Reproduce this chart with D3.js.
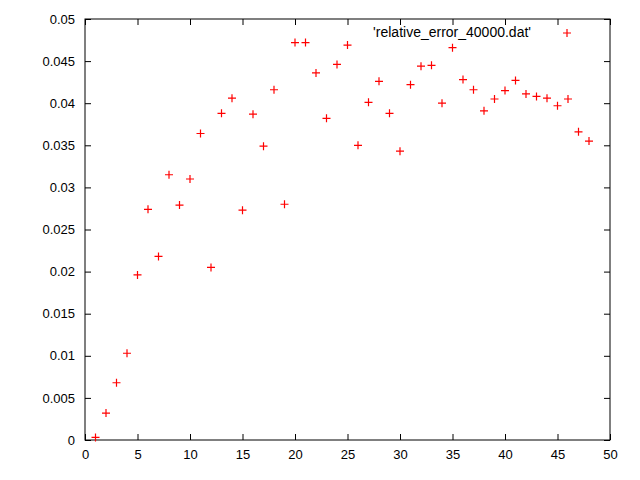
<!DOCTYPE html>
<html><head><meta charset="utf-8">
<script src="https://cdn.jsdelivr.net/npm/d3@7"></script>
<style>body{margin:0;background:#fff}text{font-family:"Liberation Sans",Arial,sans-serif;font-size:13px}</style>
</head><body><svg id="c" width="640" height="480"></svg>
<script>
const xs = d3.range(1, 49);
const ys = [0.0003,0.0032,0.0068,0.0103,0.0196,0.0274,0.0218,0.0315,0.0279,0.0310,
0.0364,0.0205,0.0388,0.0406,0.0273,0.0387,0.0349,0.0416,0.0280,0.0472,
0.0472,0.0436,0.0382,0.0446,0.0469,0.0350,0.0401,0.0426,0.0388,0.0343,
0.0422,0.0444,0.0445,0.0400,0.0466,0.0428,0.0416,0.0391,0.0405,0.0415,
0.0427,0.0411,0.0408,0.0406,0.0397,0.0405,0.0366,0.0355];
const xTicks = [0,5,10,15,20,25,30,35,40,45,50];
const yTicks = [0,0.005,0.01,0.015,0.02,0.025,0.03,0.035,0.04,0.045,0.05];
const legendLabel = "'relative_error_40000.dat'";

const L=85,R=610,T=19,B=440;
const svg=d3.select("#c");
const x=d3.scaleLinear().domain([0,50]).range([L,R]);
const y=d3.scaleLinear().domain([0,0.05]).range([B,T]);
const g=svg.append("g");
g.append("g").attr("transform",`translate(0,${B})`).call(d3.axisBottom(x).tickValues(xTicks).tickSizeInner(-6).tickSizeOuter(0).tickPadding(10).tickFormat(d3.format("d")));
g.append("g").attr("transform",`translate(0,${T})`).call(d3.axisTop(x).tickValues(xTicks).tickSizeInner(-6).tickSizeOuter(0).tickFormat(""));
g.append("g").attr("transform",`translate(${L},0)`).call(d3.axisLeft(y).tickValues(yTicks).tickSizeInner(-6).tickSizeOuter(0).tickPadding(10).tickFormat(d=>d===0?"0":String(+d.toFixed(3))));
g.append("g").attr("transform",`translate(${R},0)`).call(d3.axisRight(y).tickValues(yTicks).tickSizeInner(-6).tickSizeOuter(0).tickFormat(""));
g.selectAll(".domain").remove();
g.selectAll(".tick line").attr("stroke","#000");
g.selectAll("text").attr("fill","#000").style("font-size","13px");
svg.append("rect").attr("x",L).attr("y",T).attr("width",R-L).attr("height",B-T).attr("fill","none").attr("stroke","#000");
const plus=(sel,cx,cy)=>{sel.append("path").attr("d",`M${cx-4},${cy}H${cx+4}M${cx},${cy-4}V${cy+4}`).attr("stroke","#f00").attr("stroke-width",1.2);};
const pts=svg.append("g");
xs.forEach((d,i)=>plus(pts,x(d),y(ys[i])));
svg.append("text").attr("x",531).attr("y",37).attr("text-anchor","end").style("font-size","14px").text(legendLabel);
plus(svg,567,33);
</script></body></html>
